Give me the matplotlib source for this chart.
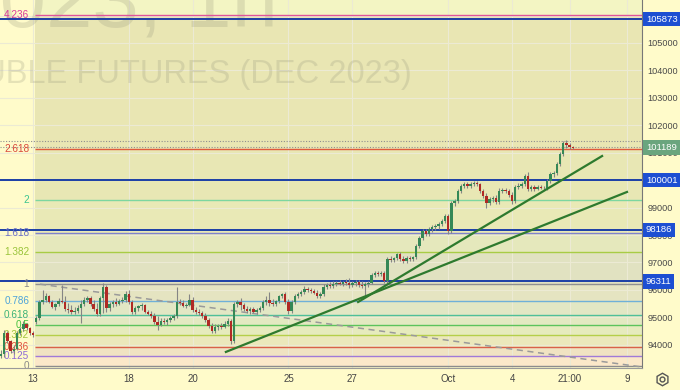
import numpy as np
import matplotlib.pyplot as plt
from matplotlib.transforms import blended_transform_factory

# hourly candles, Sep 12 - Oct 5
opens = [93590, 93660, 94430, 94140, 93770, 93850, 94430, 94570, 94760, 94610,
         94430, 94830, 94980, 95560, 95630, 95780, 95560, 95380, 95480, 95590,
         95560, 95300, 95270, 95190, 95230, 95340, 95480, 95630, 95700, 95480,
         95300, 95120, 95700, 96100, 95340, 95480, 95560, 95480, 95590, 95630,
         95850, 95560, 95190, 95340, 95410, 95450, 95190, 95120, 95050, 94830,
         94720, 94870, 94830, 94900, 94980, 95050, 95560, 95520, 95410, 95450,
         95630, 95270, 95190, 95160, 95050, 94900, 94680, 94500, 94650, 94680,
         94650, 94760, 94870, 94140, 95480, 95560, 95450, 95300, 95230, 95300,
         95190, 95270, 95340, 95560, 95630, 95520, 95480, 95590, 95780, 95850,
         95560, 95230, 95560, 95780, 95850, 95920, 96030, 96000, 95960, 95890,
         95780, 95850, 96100, 96180, 96140, 96210, 96250, 96210, 96290, 96250,
         96180, 96250, 96290, 96180, 96140, 96210, 96250, 96540, 96620, 96580,
         96620, 96320, 97130, 97090, 97160, 97310, 97130, 97050, 97160, 97130,
         97200, 97600, 97890, 98150, 98040, 98220, 98290, 98330, 98400, 98510,
         98690, 98150, 99170, 99240, 99600, 99790, 99860, 99790, 99860, 99900,
         99860, 99600, 99420, 99170, 99310, 99350, 99200, 99600, 99640, 99600,
         99460, 99240, 99750, 99790, 99860, 100150, 99680, 99750, 99680, 99750,
         99710, 99710, 99970, 100220, 100260, 100590, 100950, 101350, 101280, 101210]
highs = [93810, 94540, 94500, 94170, 93990, 94500, 94650, 94870, 94790, 94650,
         94500, 95050, 95630, 96000, 95890, 95810, 95630, 95520, 95700, 96180,
         95780, 95520, 95450, 95380, 95450, 95630, 95740, 95780, 95780, 95630,
         95520, 95780, 96250, 96180, 95560, 95630, 95700, 95670, 95740, 95960,
         96000, 95630, 95410, 95450, 95520, 95480, 95270, 95230, 95160, 95050,
         94980, 94980, 94980, 95050, 95120, 96100, 95670, 95630, 95520, 95850,
         95740, 95380, 95300, 95230, 95160, 94980, 94790, 94760, 94760, 94790,
         94870, 94980, 94940, 95560, 95630, 95700, 95520, 95410, 95380, 95380,
         95340, 95410, 95630, 95780, 95920, 95670, 95630, 95810, 95890, 95920,
         95670, 95630, 95850, 95920, 96000, 96140, 96100, 96070, 96030, 96000,
         95920, 96210, 96250, 96290, 96320, 96320, 96360, 96320, 96400, 96430,
         96320, 96360, 96360, 96320, 96290, 96320, 96620, 96690, 96690, 96690,
         96690, 97200, 97240, 97200, 97350, 97380, 97240, 97240, 97240, 97240,
         97670, 97960, 98220, 98220, 98290, 98370, 98400, 98470, 98580, 98770,
         98770, 99240, 99310, 99680, 99860, 99930, 99930, 99930, 99970, 99970,
         99900, 99680, 99530, 99390, 99420, 99460, 99710, 99710, 99710, 99680,
         99570, 99820, 99900, 99930, 100220, 100300, 99820, 99820, 99820, 99820,
         99790, 100040, 100300, 100330, 100660, 101030, 101430, 101460, 101350, 101250]
lows = [93520, 93550, 94060, 93700, 93660, 93810, 94360, 94500, 94540, 94360,
        94280, 94760, 94900, 95480, 95560, 95520, 95340, 95270, 95410, 95520,
        95230, 95160, 95120, 95120, 95160, 94790, 95410, 95560, 95410, 95230,
        95050, 95050, 95160, 95190, 95230, 95380, 95410, 95450, 95520, 95560,
        95480, 95120, 95120, 95230, 95270, 95160, 95090, 94980, 94760, 94540,
        94680, 94760, 94720, 94830, 94900, 94980, 95450, 95380, 95340, 95410,
        95190, 95120, 95090, 94980, 94830, 94610, 94430, 94430, 94540, 94570,
        94610, 94680, 94030, 94060, 95380, 95270, 95230, 95160, 95120, 95160,
        95120, 95190, 95270, 95450, 95410, 95410, 95410, 95520, 95700, 95480,
        95120, 95160, 95480, 95700, 95780, 95850, 95920, 95890, 95850, 95700,
        95700, 95780, 96030, 96070, 96070, 96140, 96180, 96140, 96180, 96070,
        96100, 96140, 96100, 96070, 95810, 96100, 96210, 96470, 96510, 96510,
        96250, 96250, 97020, 97020, 97090, 97050, 96980, 96980, 97050, 97050,
        97130, 97530, 97820, 97960, 97960, 98110, 98180, 98220, 98330, 98440,
        98040, 98070, 99060, 99170, 99530, 99710, 99710, 99710, 99790, 99790,
        99530, 99350, 98980, 99090, 99200, 99130, 99130, 99530, 99530, 99390,
        99130, 99170, 99680, 99710, 99790, 99600, 99600, 99600, 99640, 99680,
        99640, 99640, 99900, 100120, 100190, 100520, 100880, 101170, 101140, 101140]
closes = [93660, 94430, 94140, 93770, 93850, 94430, 94570, 94760, 94610, 94430,
          94360, 94980, 95560, 95630, 95780, 95560, 95380, 95480, 95590, 95560,
          95300, 95270, 95190, 95230, 95340, 95480, 95630, 95700, 95480, 95300,
          95120, 95700, 96100, 95340, 95480, 95560, 95480, 95590, 95630, 95850,
          95560, 95190, 95340, 95410, 95450, 95190, 95120, 95050, 94830, 94720,
          94870, 94830, 94900, 94980, 95050, 95560, 95520, 95410, 95450, 95630,
          95270, 95190, 95160, 95050, 94900, 94680, 94500, 94650, 94680, 94650,
          94760, 94870, 94140, 95480, 95560, 95450, 95300, 95230, 95300, 95190,
          95270, 95340, 95560, 95630, 95520, 95480, 95590, 95780, 95850, 95560,
          95230, 95560, 95780, 95850, 95920, 96030, 96000, 95960, 95890, 95780,
          95850, 96100, 96180, 96140, 96210, 96250, 96210, 96290, 96250, 96180,
          96250, 96290, 96180, 96140, 96210, 96250, 96540, 96620, 96580, 96620,
          96320, 97130, 97090, 97160, 97310, 97130, 97050, 97160, 97130, 97200,
          97600, 97890, 98150, 98040, 98220, 98290, 98330, 98400, 98510, 98690,
          98150, 99170, 99240, 99600, 99790, 99860, 99790, 99860, 99900, 99860,
          99600, 99420, 99170, 99310, 99350, 99200, 99600, 99640, 99600, 99460,
          99240, 99750, 99790, 99860, 100150, 99680, 99750, 99680, 99750, 99710,
          99710, 99970, 100220, 100260, 100590, 100950, 101350, 101280, 101210, 101189]

tick_pos = [10, 40, 60, 90, 110, 140, 160, 178, 196]
tick_labels = ["13", "18", "20", "25", "27", "Oct", "4", "21:00", "9"]

fib_ratios = ["4.236", "2.618", "2", "1.618", "1.382", "1", "0.786", "0.618",
              "0.5", "0.382", "0.236", "0.125", "0"]
fib_prices = [106010, 101140, 99260, 98070, 97400, 96220, 95580, 95090,
              94720, 94360, 93930, 93590, 93230]
fib_line_colors = ["#e0559a", "#e05a3c", "#7dd6a0", "#7f82cc", "#a8cc45", "#909090",
                   "#6fb0d8", "#4fbf9a", "#5cc35c", "#b5cf4a", "#d9604a", "#a07ad8", "#8c8c8c"]
fib_text_colors = ["#d9389a", "#d9483b", "#3cc48f", "#6b6fc4", "#9ac43a", "#8a8a8a",
                   "#4da3d9", "#3cb378", "#44c13c", "#a3c43a", "#e0503c", "#8e6ad6", "#888888"]
fib_fills = ["#e9e6b3", "#e8e7b4", "#e9e9b6", "#e5e8bc", "#e1e2c1", "#e5e4c1",
             "#e2e7c4", "#e3e9c1", "#e6ebbd", "#ebe8bb", "#f0e3c2", "#fbe8c9"]

key_levels = [105873, 100001, 98186, 96311]
last_price = 101189
dotted_levels = [101430, 101220]

# trend lines: (bar, price) pairs
trend_a = ([70.4, 196.0], [93740, 99570])
trend_b = ([111.8, 188.2], [95560, 100880])
trend_down = ([12.2, 200.7], [96210, 93190])

bg = "#fffbca"
plt.rcParams['font.family'] = ['Liberation Sans', 'DejaVu Sans']
fig = plt.figure(figsize=(6.8, 3.9), dpi=100, facecolor=bg)
ax = fig.add_axes([0, 22 / 390, 642 / 680, 368 / 390])
ax.set_facecolor(bg)

x0, x1 = -0.34, 200.7
y0, y1 = 93154, 106567
fib_x0 = 10.6

# fib zone fills
ax.fill_between([fib_x0, x1], fib_prices[0], y1, color="#f3f5c3", lw=0, zorder=0.5)
for k in range(len(fib_fills)):
    ax.fill_between([fib_x0, x1], fib_prices[k + 1], fib_prices[k],
                    color=fib_fills[k], lw=0, zorder=0.5)

# grid
for p in range(94000, 107000, 1000):
    ax.axhline(p, color="#ecead4", lw=0.8, zorder=1)
for t in tick_pos:
    ax.axvline(t, color="#ecead4", lw=0.8, zorder=1)

# watermark
ax.text(0.433, 0.929, "SiZ2023, 1h", transform=ax.transAxes, ha="right",
        va="baseline", fontsize=60, color="#9b9b80", alpha=0.26, zorder=1.5)
ax.text(0.642, 0.774, "US DOLLAR - RUSSIAN RUBLE FUTURES (DEC 2023)", transform=ax.transAxes,
        ha="right", va="baseline", fontsize=23.5, color="#9b9b80", alpha=0.26, zorder=1.5)

# fib lines + labels
ax.hlines(fib_prices, fib_x0, x1, colors=fib_line_colors, lw=1, zorder=2)
for r, p, c in zip(fib_ratios, fib_prices, fib_text_colors):
    ax.text(8.8, p, r, color=c, ha="right", va="center", fontsize=7.2, zorder=2.5)

for p in dotted_levels:
    ax.axhline(p, color="#8f8f8f", lw=0.8, ls=(0, (1, 1.5)), zorder=2.1)
for p in key_levels:
    ax.axhline(p, color="#1b3fa6", lw=1.4, zorder=2.2)

ax.plot(*trend_down, color="#9a9a9a", lw=1.1, ls=(0, (4, 3)), zorder=2.6)

# candles
o = np.array(opens)
c = np.array(closes)
x = np.arange(len(c))
up = c >= o
ax.vlines(x, lows, highs, color="#858585", lw=0.8, zorder=3)
ax.bar(x, np.maximum(np.abs(c - o), 20), bottom=np.minimum(o, c), width=0.75,
       color=np.where(up, "#358856", "#b02a25"), lw=0, zorder=3.5)

ax.plot(*trend_a, color="#2e7a2e", lw=1.6, zorder=4)
ax.plot(*trend_b, color="#2e7a2e", lw=1.6, zorder=4)

ax.set_xlim(x0, x1)
ax.set_ylim(y0, y1)

ax.yaxis.tick_right()
ax.set_yticks(range(94000, 107000, 1000))
ax.tick_params(axis="y", length=0, pad=4, labelsize=6.6, labelcolor="#4a4a4a")
ax.set_xticks(tick_pos)
ax.set_xticklabels(tick_labels)
ax.tick_params(axis="x", length=0, pad=4, labelsize=7, labelcolor="#444444")
for s in ["top", "left"]:
    ax.spines[s].set_visible(False)
ax.spines["right"].set_color("#777777")
ax.spines["bottom"].set_color("#9a9a9a")
ax.spines["bottom"].set_linewidth(0.8)

# price scale boxes
tr = blended_transform_factory(ax.transAxes, ax.transData)
boxes = [(p, "#1d4fd2") for p in key_levels] + [(last_price, "#6aa57e")]
for p, col in boxes:
    ax.text(1.006, p, str(p), transform=tr, ha="left", va="center", fontsize=6.8,
            color="white", bbox=dict(boxstyle="square,pad=0.3", fc=col, ec="none"),
            zorder=10, clip_on=False)

# settings icon
ax_icon = fig.add_axes([652 / 680, 2 / 390, 20 / 680, 18 / 390])
ax_icon.axis("off")
ax_icon.plot(0, 0, marker="h", ms=9, mfc="none", mec="#555555", mew=1)
ax_icon.plot(0, 0, marker="o", ms=3.5, mfc="none", mec="#555555", mew=1)

fig.savefig("out.png", dpi=100, facecolor=bg)
